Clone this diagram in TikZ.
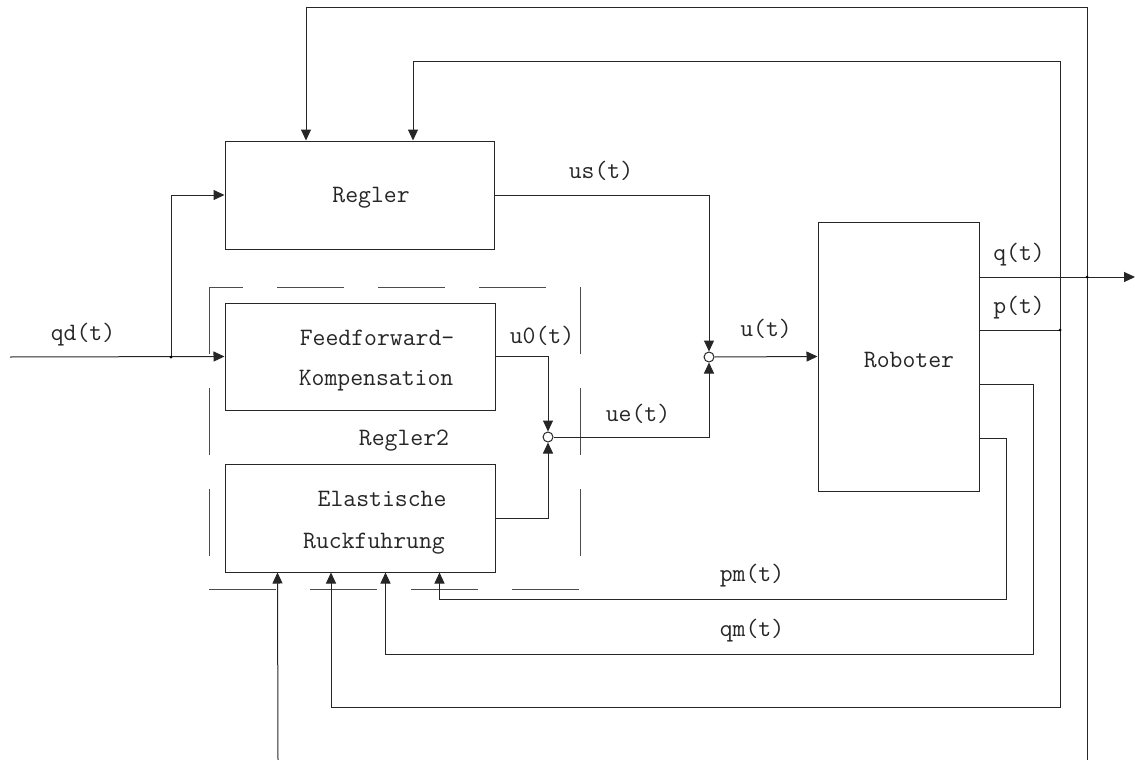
\documentclass[tikz,border=0pt]{standalone}
\usetikzlibrary{arrows.meta,calc}
\tikzset{
  ln/.style={line width=1pt, draw=black!85},
  arr/.style={ln, -{Triangle[length=11pt,width=10pt]}},
  blk/.style={draw=black!85, line width=1pt, inner sep=0pt},
  txt/.style={font=\ttfamily\fontsize{25}{29}\selectfont, inner sep=0pt, anchor=base, text=black!85},
  sumpt/.style={circle, draw=black!85, line width=1pt, fill=white, inner sep=0pt, minimum size=10pt},
  dashbox/.style={line width=1pt, draw=black!70, dash pattern=on 67pt off 34pt},
  dotpt/.style={circle, fill=black, inner sep=0pt, minimum size=3pt},
}
\begin{document}
\begin{tikzpicture}[x=1pt,y=-1pt]
\useasboundingbox (0,0) rectangle (1135,760);

% blocks
\node[blk, minimum width=269pt, minimum height=108pt] (regler) at (359.5,195) {};
\node[blk, minimum width=270pt, minimum height=107pt] (ff) at (360,356.5) {};
\node[blk, minimum width=270pt, minimum height=108pt] (el) at (360,518) {};
\node[blk, minimum width=161pt, minimum height=269pt] (rob) at (898.5,356.5) {};

% block texts
\node[txt] (tregler) at (371,202) {Regler};
\node[txt] (tff1) at (377,345) {Feedforward-};
\node[txt] (tff2) at (376,385) {Kompensation};
\node[txt] (tregler2) at (404,445) {Regler2};
\node[txt] (tel1) at (382,506) {Elastische};
\node[txt] (tel2) at (374,548) {Ruckfuhrung};
\node[txt] (trob) at (909,367) {Roboter};

% signal labels
\node[txt] (lqd) at (83,340) {qd(t)};
\node[txt] (lus) at (601,178) {us(t)};
\node[txt] (lu0) at (542,343) {u0(t)};
\node[txt] (lu) at (766,336) {u(t)};
\node[txt] (lue) at (638,421) {ue(t)};
\node[txt] (lq) at (1019,260) {q(t)};
\node[txt] (lp) at (1019,313) {p(t)};
\node[txt] (lpm) at (752,581) {pm(t)};
\node[txt] (lqm) at (752,636) {qm(t)};

% summing junctions
\node[sumpt] (j1) at (709,357) {};
\node[sumpt] (j2) at (548,437) {};

% auxiliary coordinates
\coordinate (qdin) at (10,357);
\coordinate (qdb) at (171,357);
\coordinate (qend) at (1135,277);
\coordinate (qdot) at (1087,277);
\coordinate (pdot) at (1060,330);
\coordinate (c1) at (306,8);
\coordinate (c2) at (413,62);
\coordinate (c3) at (331,707);
\coordinate (qbot) at (1087,760);
\coordinate (ebot) at (278,760);
\coordinate (qmo) at (979,384);
\coordinate (pmo) at (979,438);
\coordinate (qmc) at (1033,654);
\coordinate (pmc) at (1006,599);
\coordinate (ein1) at ([xshift=53pt]el.south west);
\coordinate (ein3) at ([xshift=161pt]el.south west);
\coordinate (ein4) at ([xshift=215pt]el.south west);

% dashed Regler2 frame
\coordinate (dnw) at (209,287);
\coordinate (dne) at (580,287);
\coordinate (dsw) at (209,589);
\coordinate (dse) at (580,589);
\draw[dashbox] (dnw) -- (dsw);
\draw[dashbox] (dne) -- (dse);
\draw[dashbox] (dsw) -- (dse);
\draw[dashbox, dash phase=33pt] (dnw) -- (dne);

% connectors
\draw[arr] (qdin) -- (ff.west);
\draw[arr] (qdb) |- (regler.west);
\draw[arr] (regler.east) -| (j1.north);
\draw[arr] (j1.east) -- (rob.west);
\draw[arr] (ff.east) -| (j2.north);
\draw[arr] (el.east) -| (j2.south);
\draw[arr] (j2.east) -| (j1.south);
\draw[arr] (rob.east |- qdot) -- (qend);
\draw[ln] (rob.east |- pdot) -- (pdot);
\draw[arr] (qdot) |- (c1) -- (c1 |- regler.north);
\draw[ln] (qdot) -- (qbot);
\draw[arr] (pdot) |- (c2) -- (c2 |- regler.north);
\draw[arr] (pdot) |- (c3) -- (c3 |- el.south);
\draw[arr] (qmo) -| (qmc) -| (ein3);
\draw[arr] (pmo) -| (pmc) -| (ein4);
\draw[arr] (ebot) -- (ein1);

% branch dots
\node[dotpt] (d1) at (qdb) {};
\node[dotpt] (d2) at (pdot) {};
\node[dotpt] (d3) at (qdot) {};
\end{tikzpicture}
\end{document}
